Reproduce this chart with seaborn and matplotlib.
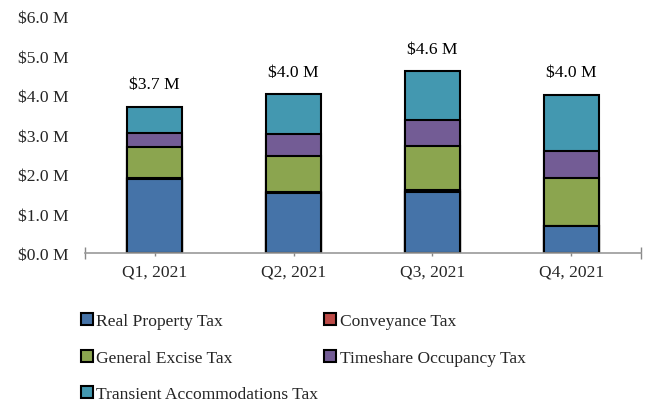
import matplotlib
matplotlib.use("Agg")
import matplotlib.pyplot as plt
import pandas as pd
import seaborn as sns
from matplotlib.patches import Patch

# quarterly tax revenue, $ millions
quarters = ['Q1, 2021', 'Q2, 2021', 'Q3, 2021', 'Q4, 2021']
real_property = [1.87, 1.53, 1.55, 0.69]
conveyance = [0.02, 0.01, 0.04, 0.00]
general_excise = [0.80, 0.91, 1.11, 1.20]
timeshare = [0.36, 0.56, 0.67, 0.70]
transient = [0.66, 1.02, 1.23, 1.42]

series_names = ['Real Property Tax', 'Conveyance Tax', 'General Excise Tax',
                'Timeshare Occupancy Tax', 'Transient Accommodations Tax']
colors = ['#4573A8', '#BD4B48', '#8BA54F', '#735C95', '#4398B0']

df = pd.DataFrame({
    'Quarter': quarters,
    series_names[0]: real_property,
    series_names[1]: conveyance,
    series_names[2]: general_excise,
    series_names[3]: timeshare,
    series_names[4]: transient,
})

# cumulative tops, so drawing largest first gives a stacked look
cum = df[series_names].cumsum(axis=1)
totals = cum[series_names[-1]]

sns.set_theme(style="white")
plt.rcParams['font.family'] = ['Liberation Serif', 'DejaVu Serif']
fs = 12.6

fig = plt.figure(figsize=(6.5, 4.06), dpi=100)
ax = fig.add_axes([0.131, 0.374, 0.855, 0.584])

for name, col in reversed(list(zip(series_names, colors))):
    sns.barplot(ax=ax, x=df['Quarter'], y=cum[name], color=col, width=0.4,
                edgecolor='black', linewidth=1.5, saturation=1)

for i, t in enumerate(totals):
    ax.annotate(f"${t:.1f} M", (i, t), xytext=(0, 16), textcoords='offset points',
                ha='center', va='center', fontsize=fs, color='black')

ax.set_ylim(0, 6)
ax.set_xlim(-0.5, 3.5)
ax.set_yticks([0, 1, 2, 3, 4, 5, 6])
ax.set_yticklabels([f"${v:.1f} M" for v in range(7)], fontsize=fs)
ax.tick_params(axis='y', length=0, pad=12)
ax.set_xlabel('')
ax.set_ylabel('')
for s in ['top', 'right', 'left']:
    ax.spines[s].set_visible(False)
ax.spines['bottom'].set_color('#999999')
ax.spines['bottom'].set_linewidth(1.2)
ax.set_xticks([0, 1, 2, 3])
ax.set_xticklabels(quarters)
ax.set_xticks([-0.5, 3.5], minor=True)
ax.tick_params(axis='x', which='both', length=5, width=1, color='#888888',
               direction='inout', labelsize=fs, pad=5, bottom=True)
ax.tick_params(axis='x', which='minor', length=8)

# legend filled row by row (matplotlib fills columns first)
order = [0, 2, 4, 1, 3]
handles = [Patch(facecolor=colors[k], edgecolor='black', linewidth=1.5) for k in order]
labels = [series_names[k] for k in order]
fig.legend(handles, labels, loc='upper left', bbox_to_anchor=(0.1, 0.265),
           ncol=2, frameon=False, fontsize=fs, handlelength=0.7, handleheight=0.7,
           handletextpad=0.2, columnspacing=0.3, labelspacing=1.15)

fig.savefig('out.png', dpi=100)
